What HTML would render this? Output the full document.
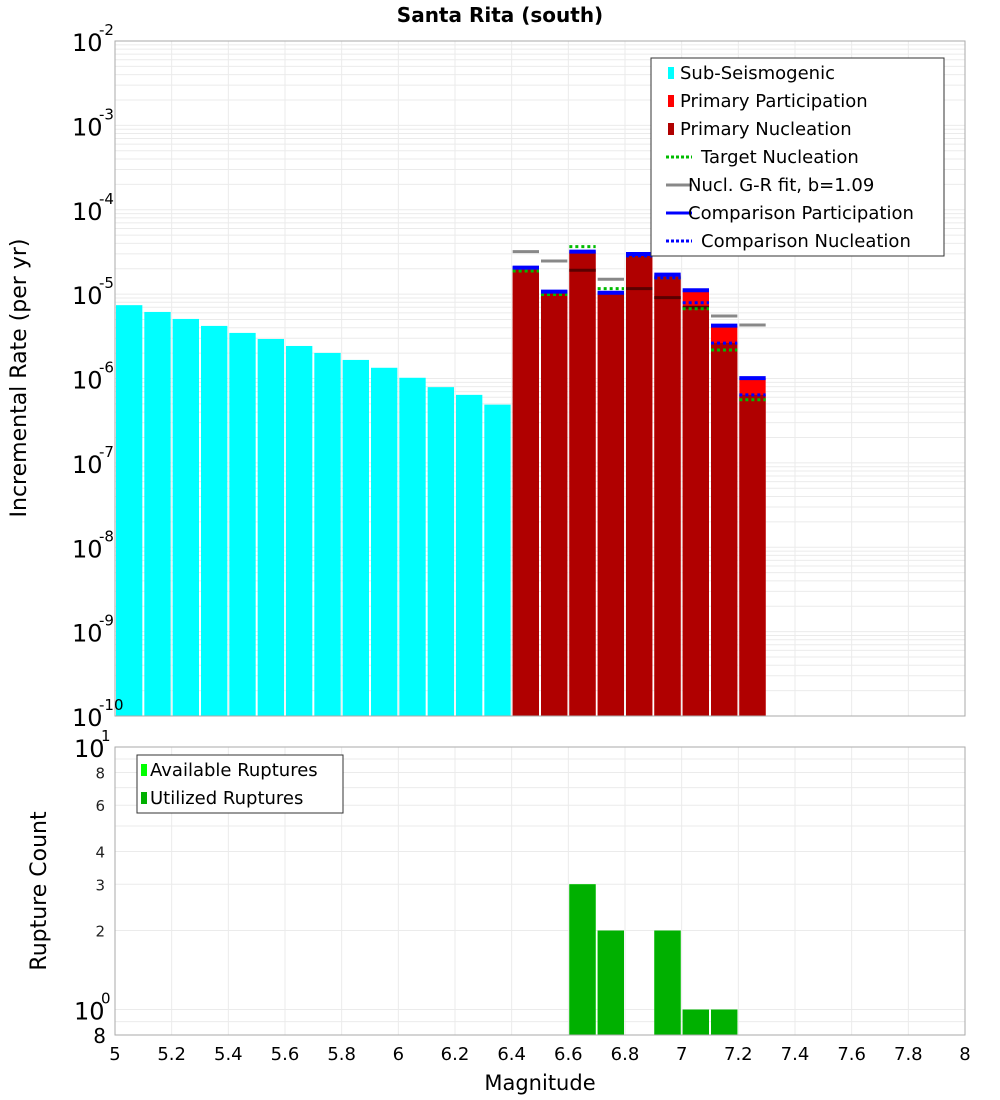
<!DOCTYPE html>
<html><head><meta charset="utf-8"><style>
body{margin:0;background:#fff;}
svg{display:block;font-family:"DejaVu Sans","Liberation Sans",sans-serif;}
</style></head><body>
<svg id="chart" width="1000" height="1100" viewBox="0 0 1000 1100"></svg>
<script>
// ---- data ----
const subMags = [5.05,5.15,5.25,5.35,5.45,5.55,5.65,5.75,5.85,5.95,6.05,6.15,6.25,6.35];
const subRates = [7.4e-6,6.15e-6,5.08e-6,4.2e-6,3.47e-6,2.94e-6,2.43e-6,2.01e-6,1.66e-6,1.34e-6,1.02e-6,7.9e-7,6.4e-7,4.9e-7];
const primMags = [6.45,6.55,6.65,6.75,6.85,6.95,7.05,7.15,7.25];
const participation = [2.06e-5,1.07e-5,3.19e-5,1.04e-5,2.99e-5,1.70e-5,1.11e-5,4.23e-6,1.01e-6];
const nucleation = [1.99e-5,1.03e-5,3.08e-5,1.0e-5,2.84e-5,1.61e-5,7.1e-6,2.64e-6,6.4e-7];
const targetNucl = [1.88e-5,9.9e-6,3.66e-5,1.16e-5,2.85e-5,1.56e-5,6.7e-6,2.18e-6,5.6e-7];
const compPart = [2.06e-5,1.07e-5,3.19e-5,1.04e-5,2.99e-5,1.70e-5,1.11e-5,4.23e-6,1.01e-6];
const compNucl = [2.06e-5,1.07e-5,3.19e-5,1.04e-5,2.84e-5,1.56e-5,7.9e-6,2.63e-6,6.4e-7];
const grFit = [3.19e-5,2.47e-5,1.92e-5,1.50e-5,1.16e-5,9.1e-6,7.0e-6,5.5e-6,4.3e-6];
const rupMags = [6.65,6.75,6.95,7.05,7.15];
const availRups = [3,2,2,1,1];
const usedRups = [3,2,2,1,1];
const xTicks = [5,5.2,5.4,5.6,5.8,6,6.2,6.4,6.6,6.8,7,7.2,7.4,7.6,7.8,8];

const svg = document.getElementById('chart');
const NS = 'http://www.w3.org/2000/svg';
function mk(tag, attrs, parent){const e=document.createElementNS(NS,tag);for(const k in attrs)e.setAttribute(k,attrs[k]);(parent||svg).appendChild(e);return e;}
const X0=115,X1=965;
const x = m => X0 + (m-5)/3*(X1-X0);
const T0=41,T1=716;
const yTop = v => T1 - (Math.log10(v)+10)/8*(T1-T0);
const B0=747,B1=1035;
const lb0=Math.log10(0.8), lb1=1;
const yBot = v => B1 - (Math.log10(v)-lb0)/(lb1-lb0)*(B1-B0);

// gridlines top
for(let d=-10; d<-2; d++){for(let k=1;k<10;k++){const v=k*Math.pow(10,d);const yy=yTop(v);
 const l=mk('line',{x1:X0,x2:X1,y1:yy,y2:yy,stroke:'#ebebeb','stroke-width':1});
 }}
// gridlines bottom
[0.8,0.9,1,2,3,4,5,6,7,8,9].forEach(v=>{const yy=yBot(v);const l=mk('line',{x1:X0,x2:X1,y1:yy,y2:yy,stroke:'#ebebeb'});
 });
xTicks.forEach(t=>{[[T0,T1],[B0,B1]].forEach(r=>{const l=mk('line',{x1:x(t),x2:x(t),y1:r[0],y2:r[1],stroke:'#ebebeb'});
 });});

// sub-seismogenic bars
subMags.forEach((m,i)=>{const r=mk('rect',{x:x(m-0.05)+1,width:x(0.1)-x(0)-2,y:yTop(subRates[i]),height:T1-yTop(subRates[i]),fill:'#00ffff'});
 });
// gray GR fit (behind)
primMags.forEach((m,i)=>{const yy=yTop(grFit[i]);const l=mk('line',{x1:x(m-0.05)+1,x2:x(m+0.05)-1,y1:yy,y2:yy,stroke:'#888','stroke-width':3});
 });
// participation and nucleation bars
primMags.forEach((m,i)=>{const bx=x(m-0.05)+1,bw=x(0.1)-x(0)-2;
 const r=mk('rect',{x:bx,width:bw,y:yTop(participation[i]),height:T1-yTop(participation[i]),fill:'#ff0000'});
 
 const n=mk('rect',{x:bx,width:bw,y:yTop(nucleation[i]),height:T1-yTop(nucleation[i]),fill:'#b00000'});
 
 if(grFit[i]<participation[i]){const yy=yTop(grFit[i]);const l=mk('line',{x1:bx,x2:bx+bw,y1:yy,y2:yy,stroke:'#5a0000','stroke-width':3});
  }
});
primMags.forEach((m,i)=>{const bx=x(m-0.05)+1,bx2=x(m+0.05)-1;
 let yy=yTop(targetNucl[i]);let l=mk('line',{x1:bx,x2:bx2,y1:yy,y2:yy,stroke:'#00bb00','stroke-width':3,'stroke-dasharray':'3,3'});
 
 yy=yTop(compPart[i]);l=mk('line',{x1:bx,x2:bx2,y1:yy,y2:yy,stroke:'#0000ff','stroke-width':4});
 
 yy=yTop(compNucl[i]);l=mk('line',{x1:bx,x2:bx2,y1:yy,y2:yy,stroke:'#0000ff','stroke-width':3,'stroke-dasharray':'3,3'});
 
});
// rupture bars
rupMags.forEach((m,i)=>{const bx=x(m-0.05)+1,bw=x(0.1)-x(0)-2;
 let r=mk('rect',{x:bx,width:bw,y:yBot(availRups[i]),height:B1-yBot(availRups[i]),fill:'#00ff00'});
 
 r=mk('rect',{x:bx,width:bw,y:yBot(usedRups[i]),height:B1-yBot(usedRups[i]),fill:'#00b000'});
 });

// frames
let f=mk('rect',{x:X0,y:T0,width:X1-X0,height:T1-T0,fill:'none',stroke:'#aaa'});

f=mk('rect',{x:X0,y:B0,width:X1-X0,height:B1-B0,fill:'none',stroke:'#aaa'});


// top y tick labels
for(let d=-10; d<=-2; d++){const yy=yTop(Math.pow(10,d));
 const t=mk('text',{x:72,y:yy+10,'font-size':24,fill:'#000'});t.textContent='10';
 
 const s=mk('text',{x:99,y:yy-6,'font-size':15,fill:'#000'});s.textContent=String(d);
 }
// bottom y tick labels
[[10,'10','1'],[1,'10','0']].forEach(a=>{const yy=yBot(a[0]);
 const t=mk('text',{x:74,y:yy+10,'font-size':24});t.textContent=a[1];
 
 const s=mk('text',{x:101,y:yy-6,'font-size':15});s.textContent=a[2];
 });
[[8,'8',15],[6,'6',15],[4,'4',15],[3,'3',15],[2,'2',15]].forEach(a=>{const yy=yBot(a[0]);
 const t=mk('text',{x:105,y:yy+6,'font-size':a[2],'text-anchor':'end',fill:'#222'});t.textContent=a[1];
 });
{const t=mk('text',{x:106,y:B1+8,'font-size':20,'text-anchor':'end'});t.textContent='8';
 }
// x ticks
xTicks.forEach(v=>{const t=mk('text',{x:x(v),y:1060,'font-size':18,'text-anchor':'middle'});
 t.textContent=String(Math.round(v*10)/10);
 });

// titles
let t=mk('text',{x:500,y:22,'font-size':20,'font-weight':'bold','text-anchor':'middle'});t.textContent='Santa Rita (south)';

t=mk('text',{x:540,y:1090,'font-size':21,'text-anchor':'middle'});t.textContent='Magnitude';

t=mk('text',{x:0,y:0,'font-size':22,'text-anchor':'middle',transform:'translate(26,378) rotate(-90)'});t.textContent='Incremental Rate (per yr)';

t=mk('text',{x:0,y:0,'font-size':22,'text-anchor':'middle',transform:'translate(46,891) rotate(-90)'});t.textContent='Rupture Count';


// legend top
const lg=mk('g',{});
mk('rect',{x:651,y:58,width:293,height:198,fill:'#fff',stroke:'#333'},lg);
const items=[['Sub-Seismogenic','box','#00ffff'],['Primary Participation','box','#ff0000'],['Primary Nucleation','box','#b00000'],
 [' Target Nucleation','dot','#00bb00'],['Nucl. G-R fit, b=1.09','line','#888'],['Comparison Participation','line','#0000ff'],[' Comparison Nucleation','dot','#0000ff']];
items.forEach((it,i)=>{const yy=73+i*28;const g=mk('g',{},lg);
 
 if(it[1]==='box')mk('rect',{x:668,y:yy-6,width:6,height:12,fill:it[2]},g);
 else mk('line',{x1:666,x2:692,y1:yy,y2:yy,stroke:it[2],'stroke-width':3,'stroke-dasharray':it[1]==='dot'?'3,2':'none'},g);
 const tx=mk('text',{x:it[1]==='box'?680:(it[1]==='dot'?694:688),y:yy+6,'font-size':18},g);tx.textContent=it[0].trim();
 if(it[1]==='dot')tx.setAttribute('x',701);});
// legend bottom
const lb=mk('g',{});
mk('rect',{x:137,y:755,width:206,height:58,fill:'#fff',stroke:'#333'},lb);
[['Available Ruptures','#00ff00'],['Utilized Ruptures','#00b000']].forEach((it,i)=>{const yy=770+i*28;const g=mk('g',{},lb);
 
 mk('rect',{x:141,y:yy-6,width:6,height:12,fill:it[1]},g);
 const tx=mk('text',{x:150,y:yy+6,'font-size':18},g);tx.textContent=it[0];});
</script>
</body></html>
